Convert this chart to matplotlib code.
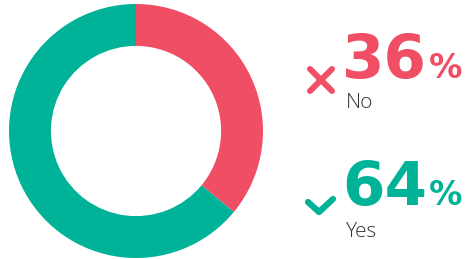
import matplotlib.pyplot as plt
from matplotlib.lines import Line2D

labels = ["No", "Yes"]
shares = [36, 64]
colors = ["#F04E64", "#00B398"]

W, H = 470, 259
fig = plt.figure(figsize=(W / 100, H / 100), dpi=100)

def fx(x):
    return x / W

def fy(y):
    return (H - y) / H

# donut
ax = fig.add_axes([fx(9), fy(258), 254 / W, 254 / H])
ax.pie(shares, colors=colors, startangle=90, counterclock=False,
       wedgeprops=dict(width=0.33, edgecolor="none"))
ax.set_xlim(-1, 1)
ax.set_ylim(-1, 1)
ax.set_aspect("equal")
ax.axis("off")

# cross icon for "No"
cx, cy, s = 321, 80, 11
for dx in (-s, s):
    fig.add_artist(Line2D([fx(cx - s), fx(cx + s)], [fy(cy - dx), fy(cy + dx)],
                          color=colors[0], lw=4.3, solid_capstyle="round",
                          transform=fig.transFigure))
# check icon for "Yes"
fig.add_artist(Line2D([fx(308), fx(319), fx(333)], [fy(202), fy(212), fy(199)],
                      color=colors[1], lw=4.5, solid_capstyle="round",
                      solid_joinstyle="round", transform=fig.transFigure))

rows = [(78, 108), (205, 237)]
for (base, sub), lab, val, col in zip(rows, labels, shares, colors):
    fig.text(fx(342), fy(base), str(val), fontsize=44, fontweight="bold",
             color=col, ha="left", va="baseline")
    fig.text(fx(429), fy(base), "%", fontsize=24, fontweight="bold",
             color=col, ha="left", va="baseline")
    fig.text(fx(346), fy(sub), lab, fontsize=15, color="#333333",
             family="Open Sans", fontweight="light", ha="left", va="baseline")

fig.savefig("out.png", dpi=100)
